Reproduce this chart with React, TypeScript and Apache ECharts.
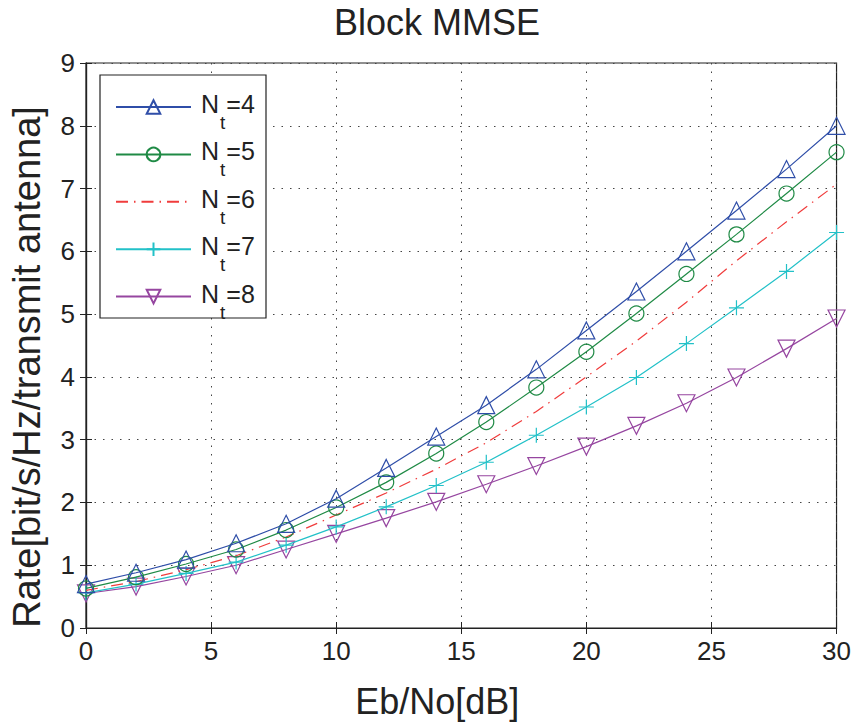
import React, { useEffect, useRef } from "react";
import * as echarts from "echarts";

const xValues = [0, 2, 4, 6, 8, 10, 12, 14, 16, 18, 20, 22, 24, 26, 28, 30];
const nt4 = [0.70, 0.88, 1.09, 1.35, 1.66, 2.06, 2.55, 3.05, 3.55, 4.12, 4.74, 5.36, 6.00, 6.65, 7.31, 8.0];
const nt5 = [0.63, 0.81, 1.02, 1.25, 1.56, 1.92, 2.32, 2.78, 3.28, 3.83, 4.40, 5.01, 5.64, 6.27, 6.92, 7.58];
const nt6 = [0.60, 0.74, 0.93, 1.15, 1.45, 1.80, 2.15, 2.53, 2.95, 3.45, 4.00, 4.57, 5.19, 5.85, 6.47, 7.07];
const nt7 = [0.56, 0.70, 0.87, 1.05, 1.32, 1.61, 1.93, 2.27, 2.64, 3.07, 3.52, 3.99, 4.53, 5.10, 5.68, 6.30];
const nt8 = [0.55, 0.66, 0.82, 1.00, 1.25, 1.50, 1.75, 2.01, 2.29, 2.58, 2.89, 3.22, 3.58, 3.99, 4.45, 4.93];
const seriesNames = ["Nt=4", "Nt=5", "Nt=6", "Nt=7", "Nt=8"];
const title = "Block MMSE";
const xName = "Eb/No[dB]";
const yName = "Rate[bit/s/Hz/transmit antenna]";

const FONT = "Liberation Sans, Arial, Helvetica, sans-serif";
const PLUS = "path://M0,-10 L0,10 M-10,0 L10,0";

export default function App() {
  const ref = useRef<HTMLDivElement>(null);
  useEffect(() => {
    if (!ref.current) return;
    const chart = echarts.init(ref.current, undefined, { renderer: "svg" });
    const pair = (arr: number[]) => xValues.map((x, i) => [x, arr[i]]);
    const colors = ["#2f4ea8", "#1f8a45", "#f03c3c", "#22c1c8", "#9646a0"];
    const datasets = [nt4, nt5, nt6, nt7, nt8];
    const symbols: any[] = ["triangle", "circle", "none", PLUS, "triangle"];
    const sizes = [17, 15, 0, 15, 17];
    const rotates = [0, 0, 0, 0, 180];
    const series = datasets.map((d, i) => ({
      name: seriesNames[i],
      type: "line",
      data: pair(d),
      symbol: symbols[i],
      symbolSize: sizes[i],
      symbolRotate: rotates[i],
      showSymbol: symbols[i] !== "none",
      lineStyle: {
        color: colors[i],
        width: 1.2,
        type: i === 2 ? [12, 6, 1.5, 6] : "solid",
      },
      itemStyle: {
        color: i === 3 ? "none" : "rgba(255,255,255,0)",
        borderColor: colors[i],
        borderWidth: 1.2,
      },
      z: 5 - i,
    }));
    const axisCommon = {
      min: 0,
      axisLine: { show: true, lineStyle: { color: "#222", width: 1.2 } },
      axisTick: { show: true, inside: true, length: 6, lineStyle: { color: "#222" } },
    };
    const grid = { color: "#444", type: [1.5, 7], width: 1 };
    chart.setOption({
      animation: false,
      backgroundColor: "#fff",
      title: {
        text: title,
        left: 334,
        top: 4,
        padding: 0,
        textStyle: { fontFamily: FONT, fontSize: 36, fontWeight: "normal", color: "#222" },
      },
      grid: { left: 83, right: 16, top: 63, bottom: 100, show: true, borderColor: "#222", borderWidth: 1.2 },
      graphic: [
        {
          type: "rect",
          shape: { x: 100, y: 75, width: 166, height: 243 },
          style: { fill: "#fff", stroke: "#222", lineWidth: 1.2 },
          z: 50,
        },
      ],
      legend: {
        orient: "vertical",
        left: 115,
        top: 91.5,
        padding: 0,
        itemGap: 6.9,
        itemWidth: 75,
        itemHeight: 17,
        z: 60,
        data: seriesNames.map((n, i) =>
          i === 2
            ? { name: n, itemStyle: { color: "rgba(0,0,0,0)", borderColor: "rgba(0,0,0,0)", borderWidth: 0 } }
            : { name: n }
        ),
        formatter: (name: string) => `{n|N}{s|t}{e|${name.slice(2)}}`,
        textStyle: {
          fontFamily: FONT,
          color: "#222",
          rich: {
            n: { fontFamily: FONT, fontSize: 25, color: "#222", verticalAlign: "middle", padding: [0, 1, 6, 5] },
            s: { fontFamily: FONT, fontSize: 19, color: "#222", verticalAlign: "middle", padding: [31, 0, 0, 0] },
            e: { fontFamily: FONT, fontSize: 25, color: "#222", verticalAlign: "middle", padding: [0, 0, 6, 1] },
          },
        },
      },
      xAxis: [
        {
          ...axisCommon,
          type: "value",
          max: 30,
          interval: 5,
          name: xName,
          nameLocation: "middle",
          nameGap: 55,
          nameTextStyle: { fontFamily: FONT, fontSize: 36, color: "#222", padding: [0, 48, 0, 0] },
          axisLabel: { fontFamily: FONT, fontSize: 26, color: "#222", margin: 10 },
          splitLine: { show: true, lineStyle: grid },
        },
        {
          ...axisCommon,
          type: "value",
          position: "top",
          max: 30,
          interval: 5,
          axisLabel: { show: false },
          splitLine: { show: false },
        },
      ],
      yAxis: [
        {
          ...axisCommon,
          type: "value",
          max: 9,
          interval: 1,
          name: yName,
          nameLocation: "middle",
          nameGap: 40,
          nameTextStyle: { fontFamily: FONT, fontSize: 38, color: "#222", padding: [0, 43, 0, 0] },
          axisLabel: { fontFamily: FONT, fontSize: 26, color: "#222", margin: 11 },
          splitLine: { show: true, lineStyle: grid },
        },
        {
          ...axisCommon,
          type: "value",
          position: "right",
          max: 9,
          interval: 1,
          axisLabel: { show: false },
          splitLine: { show: false },
        },
      ],
      series,
    });
    return () => chart.dispose();
  }, []);
  return (
    <div
      ref={ref}
      style={{ width: 854, height: 728, position: "absolute", left: 0, top: 0 }}
    />
  );
}
